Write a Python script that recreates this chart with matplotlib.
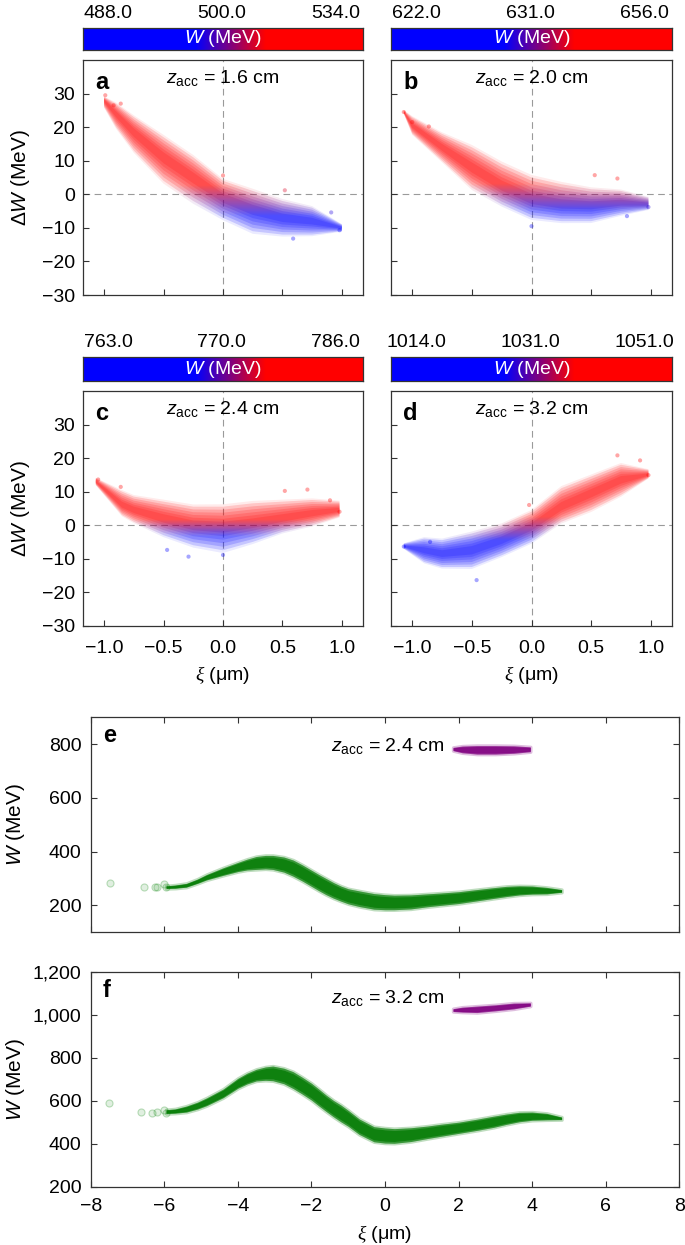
import numpy as np
import matplotlib
matplotlib.use('Agg')
import matplotlib.pyplot as plt
from matplotlib.colors import LinearSegmentedColormap, Normalize
from matplotlib.ticker import FuncFormatter

plt.rcParams['font.family'] = ['Liberation Sans', 'DejaVu Sans']
plt.rcParams['mathtext.fontset'] = 'custom'
plt.rcParams['mathtext.rm'] = 'Liberation Sans'
plt.rcParams['mathtext.it'] = 'Liberation Sans:italic'
plt.rcParams['mathtext.cal'] = 'Liberation Serif:italic'

# ---- panel a-d : energy spread clouds (xi, lower edge, centre, upper edge)
xi_a = [-1.0, -0.9, -0.75, -0.5, -0.25, 0.0, 0.25, 0.5, 0.75, 1.0]
lo_a = [26, 20, 13, 4, -2, -7, -11, -12, -12, -11]
mid_a = [28, 24, 18.5, 11, 5, -1, -4.5, -7, -8, -10]
hi_a = [29, 27, 23, 17, 11, 4, 1, -2, -4, -9]
out_a = [(-0.99, 29.5), (-0.92, 26.5), (-0.86, 27), (0.52, 1.2), (0.0, 5.6),
         (0.91, -5.4), (0.98, -10.7), (0.59, -13.2)]

xi_b = [-1.07, -1.0, -0.75, -0.5, -0.25, 0.0, 0.25, 0.5, 0.75, 0.98]
lo_b = [24, 18, 10, 2, -3, -7, -8, -8, -6, -4.5]
mid_b = [24.5, 20.5, 14, 8, 2.5, -1.5, -3, -3.3, -2.5, -3]
hi_b = [25, 23, 18, 14, 9, 5, 3, 1.5, 1, -1]
out_b = [(-1.07, 24.5), (-1.0, 21.5), (-0.86, 20.2), (0.72, 4.7), (0.53, 5.7),
         (0.8, -6.5), (0.98, -3.8), (0.0, -9.5)]

xi_c = [-1.07, -0.85, -0.75, -0.5, -0.25, 0.0, 0.25, 0.5, 0.75, 0.98]
lo_c = [12, 3, 1, -3, -6, -7.5, -5, -2, 0, 2.5]
mid_c = [13, 6, 4.5, 2, 0, -0.5, 0.5, 2, 3.5, 4.5]
hi_c = [14, 10, 8.5, 7, 5.5, 5.5, 6.5, 7, 7.5, 7]
out_c = [(-1.05, 13.6), (-0.86, 11.4), (0.52, 10.2), (0.71, 10.6), (0.9, 7.4),
         (0.98, 4.0), (0.0, -8.9), (-0.29, -9.4), (-0.47, -7.4)]

xi_d = [-1.07, -0.9, -0.75, -0.5, -0.25, 0.0, 0.25, 0.5, 0.75, 0.98]
lo_d = [-7, -11, -12.5, -12.5, -9, -5, 1, 4.5, 9, 14]
mid_d = [-6.3, -7.5, -8.5, -7.5, -4.5, -0.5, 5.5, 9.5, 13.5, 15]
hi_d = [-5.5, -4, -4.5, -2.5, 0, 4, 11, 14.5, 18, 16.5]
out_d = [(-1.07, -6.4), (-0.85, -5.0), (-0.46, -16.4), (0.72, 20.8), (0.91, 19.3),
         (0.98, 14.9), (-0.02, 6.0)]

cbar_a = ['488.0', '500.0', '534.0']
cbar_b = ['622.0', '631.0', '656.0']
cbar_c = ['763.0', '770.0', '786.0']
cbar_d = ['1014.0', '1031.0', '1051.0']

# ---- panels e, f : whole bunch (green) and accelerated bunch (purple)
xi_g = [-5.95, -5.7, -5.4, -5.1, -4.85, -4.4, -4.0, -3.75, -3.5, -3.25, -3.05,
        -2.75, -2.5, -2.25, -2.0, -1.8, -1.6, -1.4, -1.2, -1.0, -0.7, -0.3, 0.0,
        0.25, 0.7, 1.15, 1.5, 2.0, 2.5, 2.95, 3.3, 3.65, 4.0, 4.4, 4.8]
lo_e = [263, 264, 268, 282, 295, 312, 326, 332, 334, 336, 334, 324, 309, 291,
        271, 255, 240, 227, 216, 206, 196, 186, 184, 184, 187, 195, 200, 207,
        217, 226, 233, 239, 242, 243, 249]
hi_e = [273, 276, 282, 298, 315, 340, 360, 372, 382, 386, 386, 380, 369, 351,
        331, 315, 300, 285, 272, 262, 254, 244, 240, 238, 239, 243, 246, 251,
        259, 266, 271, 273, 272, 267, 259]
lo_f = [540, 542, 547, 561, 577, 614, 658, 678, 692, 695, 693, 679, 657, 631,
        603, 576, 550, 525, 502, 481, 443, 409, 403, 402, 410, 424, 434, 448,
        462, 476, 490, 502, 509, 511, 512]
hi_f = [558, 562, 575, 593, 613, 654, 704, 728, 746, 757, 761, 751, 735, 709,
        681, 654, 626, 601, 580, 555, 515, 479, 473, 470, 474, 482, 490, 500,
        514, 528, 538, 546, 547, 541, 524]
xi_p = [1.85, 2.1, 2.5, 3.0, 3.5, 3.95]
lo_pe = [776, 768, 763, 763, 766, 772]
hi_pe = [788, 793, 795, 795, 794, 790]
lo_pf = [1015, 1012, 1010, 1018, 1027, 1040]
hi_pf = [1028, 1035, 1040, 1046, 1054, 1055]
out_e = [(-7.47, 282), (-6.56, 269), (-6.25, 269), (-6.19, 270), (-6.0, 278), (-5.95, 268)]
out_f = [(-7.5, 588), (-6.62, 549), (-6.34, 544), (-6.2, 547), (-6.0, 557), (-5.95, 545)]

cmap_pts = LinearSegmentedColormap.from_list('br', ['blue', 'red'])
cmap_bar = LinearSegmentedColormap.from_list(
    'bar', [(0, 'blue'), (0.4, 'blue'), (0.65, 'red'), (1, 'red')])
spine_c = '#333333'
minus = lambda s: s.replace('-', '\u2212')

fig = plt.figure(figsize=(6.85, 12.45), dpi=100)
FW, FH = 685, 1245


def rect(l, t, r, b):
    return [l / FW, 1 - b / FH, (r - l) / FW, (b - t) / FH]


def style(ax, pad_x=10, pad_y=5.5, all_sides=False):
    for s in ax.spines.values():
        s.set_color(spine_c)
        s.set_linewidth(0.9)
    ax.tick_params(direction='in', length=4, width=0.8, color=spine_c,
                   labelsize=14, top=all_sides, right=all_sides)
    ax.tick_params(axis='x', pad=pad_x)
    ax.tick_params(axis='y', pad=pad_y)


def cloud(ax, xi, lo, mid, hi, cmid, span):
    xi, lo, mid, hi = map(np.asarray, (xi, lo, mid, hi))
    norm = Normalize(cmid - span, cmid + span)
    grad = np.linspace(-30, 40, 400)[:, None]
    layers = [(1.12, 0.08), (1.0, 0.16), (0.85, 0.17), (0.7, 0.17),
              (0.55, 0.17), (0.4, 0.17), (0.25, 0.17)]
    for f, a in layers:
        band = ax.fill_between(xi, mid - f * (mid - lo), mid + f * (hi - mid),
                               facecolor='none', edgecolor='none')
        im = ax.imshow(grad, extent=(xi.min() - 0.05, xi.max() + 0.05, -30, 40),
                       origin='lower', cmap=cmap_pts, norm=norm, alpha=a,
                       aspect='auto', interpolation='bilinear', zorder=2)
        im.set_clip_path(band.get_paths()[0], transform=ax.transData)
    return norm


def colorbar(rc, labels, xs):
    cax = fig.add_axes(rect(*rc))
    cax.imshow(np.linspace(0, 1, 256)[None, :], cmap=cmap_bar, aspect='auto',
               extent=(0, 1, 0, 1))
    cax.set_xticks([])
    cax.set_yticks([])
    for s in cax.spines.values():
        s.set_color(spine_c)
        s.set_linewidth(0.9)
    for lab, x in zip(labels, xs):
        cax.text(x, 1.42, lab, transform=cax.transAxes, ha='center',
                 va='baseline', fontsize=14)
    cax.text(0.5, 0.5, r'$W$ (MeV)', transform=cax.transAxes, ha='center',
             va='center', fontsize=14, color='white')


panels = [
    ('a', '1.6', (82.7, 60, 363.3, 295), (82.7, 27.7, 363.3, 50), cbar_a,
     xi_a, lo_a, mid_a, hi_a, out_a, -2.0, 4.5),
    ('b', '2.0', (390.7, 60, 672.3, 295), (390.7, 27.7, 672.3, 50), cbar_b,
     xi_b, lo_b, mid_b, hi_b, out_b, -1.0, 4.0),
    ('c', '2.4', (82.7, 391, 363.3, 625.7), (82.7, 357.3, 363.3, 381), cbar_c,
     xi_c, lo_c, mid_c, hi_c, out_c, -0.8, 2.5),
    ('d', '3.2', (390.7, 391, 672.3, 625.7), (390.7, 357.3, 672.3, 381), cbar_d,
     xi_d, lo_d, mid_d, hi_d, out_d, -1.0, 3.5),
]

for i, (let, z, rc, cb, labs, xi, lo, mid, hi, out, cmid, span) in enumerate(panels):
    ax = fig.add_axes(rect(*rc))
    ax.axhline(0, color='#9a9a9a', ls=(0, (6, 4)), lw=0.8, zorder=1)
    ax.axvline(0, color='#9a9a9a', ls=(0, (6, 4)), lw=0.8, zorder=1)
    norm = cloud(ax, xi, lo, mid, hi, cmid, span)
    ox, oy = zip(*out)
    ax.scatter(ox, oy, s=9, c=oy, cmap=cmap_pts, norm=norm, alpha=0.35,
               linewidths=0, zorder=3)
    ax.set_xlim(-1.18, 1.18)
    ax.set_ylim(-30, 40)
    ax.set_xticks([-1.0, -0.5, 0.0, 0.5, 1.0])
    ax.set_yticks(range(-30, 31, 10))
    ax.xaxis.set_major_formatter(FuncFormatter(lambda v, p: minus(f'{v:.1f}')))
    style(ax)
    if i < 2:
        ax.set_xticklabels([])
    else:
        ax.set_xlabel(r'$\mathcal{\xi}$ (μm)', fontsize=14)
        ax.xaxis.set_label_coords(0.5, -0.165)
    if i % 2 == 1:
        ax.set_yticklabels([])
    else:
        ax.set_ylabel(r'$\Delta W$ (MeV)', fontsize=15)
        ax.yaxis.set_label_coords(-0.18, 0.5)
    ax.text(0.045, 0.875, let, transform=ax.transAxes, fontsize=17,
            fontweight='bold', va='baseline')
    ax.text(0.0, 33.2, r'$z_{\rm acc}$ = ' + z + ' cm', ha='center',
            va='baseline', fontsize=14)
    colorbar(cb, labs, [0.09, 0.495, 0.9])


def bunch(ax, xi, lo, hi, color):
    lo, hi = np.asarray(lo), np.asarray(hi)
    w = hi - lo
    ax.fill_between(xi, lo, hi, facecolor=color, edgecolor=color, alpha=0.25,
                    lw=2.5, zorder=2)
    ax.fill_between(xi, lo, hi, color=color, alpha=0.6, lw=0, zorder=2)
    ax.fill_between(xi, lo + 0.12 * w, hi - 0.12 * w, color=color, alpha=0.8,
                    lw=0, zorder=2)


lower = [
    ('e', '2.4', (90.7, 717.3, 679.3, 932.3), lo_e, hi_e, lo_pe, hi_pe, out_e,
     (100, 900), range(200, 801, 200), 775),
    ('f', '3.2', (90.7, 971.7, 679.3, 1186.7), lo_f, hi_f, lo_pf, hi_pf, out_f,
     (200, 1200), range(200, 1201, 200), 1053),
]

for j, (let, z, rc, lo, hi, lop, hip, out, ylim, yt, ztxt) in enumerate(lower):
    ax = fig.add_axes(rect(*rc))
    bunch(ax, xi_g, lo, hi, '#007a00')
    bunch(ax, xi_p, lop, hip, '#800080')
    ox, oy = zip(*out)
    ax.scatter(ox, oy, s=26, facecolor=(0, 0.5, 0, 0.12),
               edgecolor=(0, 0.5, 0, 0.25), linewidths=0.8, zorder=3)
    ax.set_xlim(-8, 8)
    ax.set_ylim(*ylim)
    ax.set_xticks(range(-8, 9, 2))
    ax.set_yticks(list(yt))
    ax.yaxis.set_major_formatter(FuncFormatter(lambda v, p: f'{v:,.0f}'))
    ax.xaxis.set_major_formatter(FuncFormatter(lambda v, p: minus(f'{v:.0f}')))
    style(ax, pad_x=8, pad_y=6.5, all_sides=True)
    ax.set_ylabel(r'$W$ (MeV)', fontsize=15)
    ax.yaxis.set_label_coords(-0.108, 0.5)
    if j == 0:
        ax.set_xticklabels([])
    else:
        ax.set_xlabel(r'$\mathcal{\xi}$ (μm)', fontsize=14)
        ax.xaxis.set_label_coords(0.5, -0.168)
    ax.text(0.021, 0.887 if j == 0 else 0.884, let, transform=ax.transAxes,
            fontsize=17, fontweight='bold', va='baseline')
    ax.text(1.6, ztxt, r'$z_{\rm acc}$ = ' + z + ' cm', ha='right',
            va='baseline', fontsize=14)

fig.savefig('out.png', dpi=100)
